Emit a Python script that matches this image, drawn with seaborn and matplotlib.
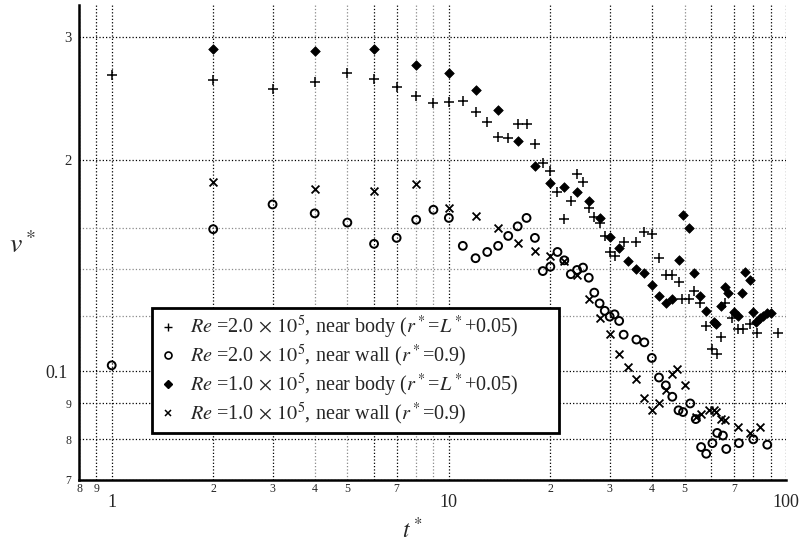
import numpy as np
import pandas as pd
import matplotlib
matplotlib.use("Agg")
import matplotlib.pyplot as plt
import seaborn as sns
from matplotlib.ticker import FixedLocator, FixedFormatter
from matplotlib.lines import Line2D

# Re = 2.0e5, near body (+)
t_body_hi = [1, 2, 3, 4, 5, 6, 7, 8, 9, 10, 11, 12, 13, 14, 15, 16, 17, 18, 19, 20,
             21, 22, 23, 24, 25, 26, 27, 28, 29, 30, 31, 33, 36, 38, 40, 42, 44, 46, 48, 49,
             51.5, 53.5, 55.5, 58, 60.5, 62.5, 64, 66, 69, 72, 74.5, 78, 82, 95]
v_body_hi = [0.265, 0.260, 0.253, 0.259, 0.266, 0.261, 0.254, 0.247, 0.241, 0.242,
             0.243, 0.234, 0.227, 0.216, 0.215, 0.225, 0.225, 0.211, 0.198, 0.193,
             0.180, 0.165, 0.175, 0.191, 0.186, 0.171, 0.166, 0.163, 0.156, 0.148,
             0.146, 0.153, 0.153, 0.158, 0.157, 0.145, 0.137, 0.137, 0.134, 0.127,
             0.127, 0.130, 0.125, 0.116, 0.1075, 0.106, 0.112, 0.125, 0.119, 0.115,
             0.115, 0.117, 0.1135, 0.1135]

# Re = 2.0e5, near wall (o)
t_wall_hi = [1, 2, 3, 4, 5, 6, 7, 8, 9, 10, 11, 12, 13, 14, 15, 16, 17, 18, 19, 20,
             21, 22, 23, 24, 25, 26, 27, 28, 29, 30, 31, 32, 33, 36, 38, 40, 42, 44, 46, 48,
             49.5, 52, 54, 56, 58, 60.5, 62.5, 65, 66.5, 72.5, 80, 88]
v_wall_hi = [0.102, 0.1595, 0.173, 0.168, 0.163, 0.152, 0.155, 0.1645, 0.170, 0.1655,
             0.151, 0.145, 0.148, 0.151, 0.156, 0.161, 0.1655, 0.155, 0.139, 0.141,
             0.148, 0.144, 0.1376, 0.1395, 0.1406, 0.136, 0.1295, 0.125, 0.122, 0.1197,
             0.1206, 0.118, 0.1128, 0.111, 0.110, 0.1045, 0.098, 0.0955, 0.092, 0.088,
             0.0875, 0.090, 0.0855, 0.078, 0.0763, 0.079, 0.0817, 0.081, 0.0775, 0.079,
             0.080, 0.0786]

# Re = 1.0e5, near body (filled diamond)
t_body_lo = [2, 4, 6, 8, 10, 12, 14, 16, 18, 20, 22, 24, 26, 28, 30, 32, 34, 36, 38, 40,
             42, 44, 46, 48, 49.5, 51.5, 53.5, 55.5, 58, 61, 62, 64, 66, 67.5, 70, 72,
             74, 75.5, 78, 80, 81.5, 83.5, 85.5, 88, 90]
v_body_lo = [0.2885, 0.286, 0.288, 0.273, 0.266, 0.252, 0.236, 0.213, 0.196, 0.1855,
             0.183, 0.180, 0.1747, 0.1655, 0.1556, 0.150, 0.1435, 0.140, 0.138, 0.133,
             0.128, 0.125, 0.127, 0.144, 0.167, 0.160, 0.138, 0.128, 0.122, 0.1175,
             0.117, 0.124, 0.132, 0.1295, 0.1217, 0.120, 0.1295, 0.1386, 0.135, 0.1217,
             0.1175, 0.119, 0.120, 0.121, 0.121]

# Re = 1.0e5, near wall (x)
t_wall_lo = [2, 4, 6, 8, 10, 12, 14, 16, 18, 20, 22, 24, 26, 28, 30, 32, 34, 36, 38, 40,
             42, 44, 46, 47.5, 50, 54, 56, 59, 61, 62, 64, 66, 72, 78, 84]
v_wall_lo = [0.186, 0.182, 0.181, 0.185, 0.171, 0.1667, 0.160, 0.1524, 0.1487, 0.146,
             0.1435, 0.137, 0.127, 0.119, 0.113, 0.1057, 0.1016, 0.0975, 0.0916, 0.088,
             0.090, 0.094, 0.099, 0.1007, 0.0956, 0.086, 0.087, 0.088, 0.088, 0.0875,
             0.0855, 0.0853, 0.0833, 0.0816, 0.0833]

legend_labels = [
    r"$Re$ =2.0$\,\times\,10^5$, near body ($r^*$=$L^*$+0.05)",
    r"$Re$ =2.0$\,\times\,10^5$, near wall ($r^*$=0.9)",
    r"$Re$ =1.0$\,\times\,10^5$, near body ($r^*$=$L^*$+0.05)",
    r"$Re$ =1.0$\,\times\,10^5$, near wall ($r^*$=0.9)",
]

x_major = [1, 10, 100]
x_major_labels = ["1", "10", "100"]
x_minor = [0.8, 0.9, 2, 3, 4, 5, 6, 7, 8, 9, 20, 30, 40, 50, 60, 70, 80, 90]
x_minor_labels = ["8", "9", "2", "3", "4", "5", "", "7", "", "", "2", "3", "4", "5", "", "7", "", ""]
x_light = [4, 5, 8, 9, 50]

y_major = [0.1]
y_major_labels = ["0.1"]
y_minor = [0.07, 0.08, 0.09, 0.12, 0.14, 0.16, 0.18, 0.2, 0.3]
y_minor_labels = ["7", "8", "9", "", "", "", "", "2", "3"]
y_light = [0.12, 0.14, 0.16]

sns.set_style("white")
plt.rcParams["font.family"] = ["Liberation Serif", "DejaVu Serif"]
plt.rcParams["mathtext.fontset"] = "stix"

fig = plt.figure(figsize=(8.04, 5.42), dpi=100)
ax = fig.add_axes([0.0983, 0.1144, 0.8793, 0.8764])

sns.scatterplot(x=t_body_hi, y=v_body_hi, marker="+", s=52, color="black",
                linewidth=1.1, ax=ax, zorder=3)
sns.scatterplot(x=t_wall_hi, y=v_wall_hi, marker="o", s=32, facecolors="none",
                edgecolor="black", linewidth=1.4, ax=ax, zorder=3)
sns.scatterplot(x=t_body_lo, y=v_body_lo, marker="D", s=24, color="black",
                edgecolor="black", linewidth=0.5, ax=ax, zorder=3)
sns.scatterplot(x=t_wall_lo, y=v_wall_lo, marker="x", s=32, color="black",
                linewidth=1.3, ax=ax, zorder=3)

ax.set_xscale("log")
ax.set_yscale("log")
ax.set_xlim(0.8, 100)
ax.set_ylim(0.07, 0.333)

ax.xaxis.set_major_locator(FixedLocator(x_major))
ax.xaxis.set_major_formatter(FixedFormatter(x_major_labels))
ax.xaxis.set_minor_locator(FixedLocator(x_minor))
ax.xaxis.set_minor_formatter(FixedFormatter(x_minor_labels))
ax.yaxis.set_major_locator(FixedLocator(y_major))
ax.yaxis.set_major_formatter(FixedFormatter(y_major_labels))
ax.yaxis.set_minor_locator(FixedLocator(y_minor))
ax.yaxis.set_minor_formatter(FixedFormatter(y_minor_labels))

ax.tick_params(axis="x", which="major", direction="in", length=4, width=1,
               labelsize=13, pad=10)
ax.tick_params(axis="x", which="minor", direction="in", length=3, width=0.8,
               labelsize=8.5, pad=2.5)
ax.tick_params(axis="y", which="major", direction="out", length=7, width=1,
               labelsize=13, pad=1)
ax.tick_params(axis="y", which="minor", direction="out", length=4, width=0.8,
               labelsize=8.5, pad=1.5)

ax.grid(True, which="both", linestyle=":", color="black", linewidth=0.9)
for loc, tick in zip(x_minor, ax.xaxis.get_minor_ticks(len(x_minor))):
    if loc in x_light:
        tick.gridline.set_color("#8a8a8a")
for loc, tick in zip(y_minor, ax.yaxis.get_minor_ticks(len(y_minor))):
    if loc in y_light:
        tick.gridline.set_color("#8a8a8a")
    if loc == 0.18:
        tick.gridline.set_visible(False)
    if loc in (0.2, 0.3):
        tick.label1.set_fontsize(10.5)

for side in ["top", "right"]:
    ax.spines[side].set_visible(False)
for side in ["left", "bottom"]:
    ax.spines[side].set_linewidth(1.8)
    ax.spines[side].set_color("black")

ax.set_xlabel(r"$t^*$", fontsize=17)
ax.xaxis.set_label_coords(0.471, -0.080)
ax.set_ylabel(r"$v^*$", fontsize=20, rotation=0)
ax.yaxis.set_label_coords(-0.08, 0.465)

handles = [
    Line2D([], [], ls="none", marker="+", color="black", ms=6, mew=1.0),
    Line2D([], [], ls="none", marker="o", mfc="none", mec="black", ms=5, mew=1.2),
    Line2D([], [], ls="none", marker="D", color="black", ms=4),
    Line2D([], [], ls="none", marker="x", color="black", ms=5, mew=1.1),
]
leg = ax.legend(handles, legend_labels, loc="upper left",
                bbox_to_anchor=(0.103, 0.105, 0.576, 0.257), mode="expand",
                borderaxespad=0, fontsize=14.5, frameon=True, fancybox=False,
                framealpha=1, edgecolor="black", handlelength=1.0, handletextpad=0.6,
                labelspacing=0.1, borderpad=0.3)
leg.get_frame().set_linewidth(2)

fig.savefig("out.png", dpi=100)
